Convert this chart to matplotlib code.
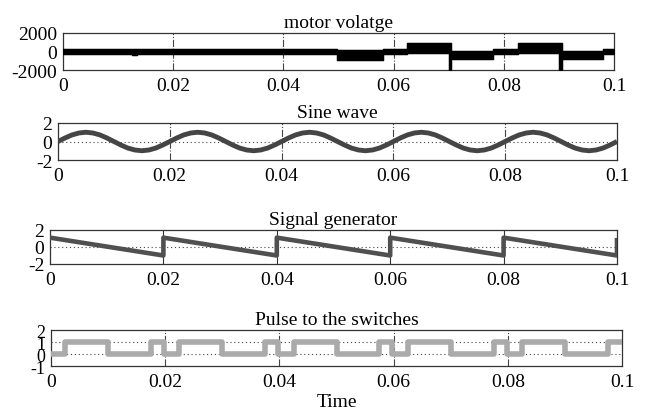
import matplotlib
matplotlib.use("Agg")
import matplotlib.pyplot as plt
import numpy as np

plt.rcParams['font.family'] = ['Liberation Serif', 'DejaVu Serif']

# ---------------- data ----------------
# motor voltage: piecewise bands (segment edges, band top, band bottom)
mv_edges = [0.0, 0.005, 0.0125, 0.0135, 0.0165, 0.020, 0.030, 0.0375, 0.0385,
            0.0425, 0.0497, 0.058, 0.0625, 0.0700, 0.0705, 0.0780, 0.0825,
            0.0900, 0.0905, 0.0980, 0.1]
mv_hi = [230, 300, 260, 300, 260, 220, 230, 320, 260, 300,
         150, 250, 950, 950, 100, 250, 950, 950, 100, 250]
mv_lo = [-260, -230, -330, -230, -260, -220, -230, -230, -230, -220,
         -880, -250, -200, -2000, -820, -250, -150, -2000, -820, -250]

# sine wave samples (every 0.00125 s)
sine_t = [i * 0.00125 for i in range(81)]
sine_v = [0.0, 0.38, 0.71, 0.92, 1.0, 0.92, 0.71, 0.38,
          0.0, -0.38, -0.71, -0.92, -1.0, -0.92, -0.71, -0.38,
          0.0, 0.38, 0.71, 0.92, 1.0, 0.92, 0.71, 0.38,
          0.0, -0.38, -0.71, -0.92, -1.0, -0.92, -0.71, -0.38,
          0.0, 0.38, 0.71, 0.92, 1.0, 0.92, 0.71, 0.38,
          0.0, -0.38, -0.71, -0.92, -1.0, -0.92, -0.71, -0.38,
          0.0, 0.38, 0.71, 0.92, 1.0, 0.92, 0.71, 0.38,
          0.0, -0.38, -0.71, -0.92, -1.0, -0.92, -0.71, -0.38,
          0.0, 0.38, 0.71, 0.92, 1.0, 0.92, 0.71, 0.38,
          0.0, -0.38, -0.71, -0.92, -1.0, -0.92, -0.71, -0.38,
          0.0]

# signal generator (sawtooth) vertices
saw_t = [0.0, 0.02, 0.02, 0.04, 0.04, 0.06, 0.06, 0.08, 0.08, 0.1, 0.1]
saw_v = [1.1, -1.0, 1.1, -1.0, 1.1, -1.0, 1.1, -1.0, 1.1, -1.0, 0.8]

# pulse to the switches (segment edges and levels)
pulse_edges = [0.0, 0.0025, 0.010, 0.0175, 0.0198, 0.0225, 0.030, 0.0375, 0.0398,
               0.0425, 0.050, 0.0575, 0.0598, 0.0625, 0.070, 0.0775, 0.0798,
               0.0825, 0.090, 0.0975, 0.1]
pulse_v = [0, 1, 0, 1, 0, 1, 0, 1, 0, 1, 0, 1, 0, 1, 0, 1, 0, 1, 0, 1]

xticks = [0, 0.02, 0.04, 0.06, 0.08, 0.1]
xticklabels = ['0', '0.02', '0.04', '0.06', '0.08', '0.1']

# ---------------- figure ----------------
W, H = 645, 414
fig = plt.figure(figsize=(W / 100, H / 100), dpi=100)

def add_ax(l, r, t, b):
    return fig.add_axes([l / W, 1 - b / H, (r - l) / W, (b - t) / H])

FS = 14
TFS = 14

def style(ax, title, yticks, ylim, vgrid_style='-.', vgrid_color='#444444', yfs=FS):
    ax.set_xlim(0, 0.1)
    ax.set_ylim(*ylim)
    ax.set_xticks(xticks)
    ax.set_xticklabels(xticklabels, fontsize=FS)
    ax.set_yticks(yticks)
    ax.set_yticklabels([str(v) for v in yticks], fontsize=yfs)
    ax.tick_params(axis='x', length=0, pad=5)
    ax.tick_params(axis='y', length=0, pad=4)
    for s in ax.spines.values():
        s.set_color('#333333')
        s.set_linewidth(0.9)
    for xv in xticks[1:-1]:
        ax.axvline(xv, color=vgrid_color, lw=0.8, ls=vgrid_style, zorder=1)
    ax.set_title(title, fontsize=TFS, pad=4)

# panel 1
ax1 = add_ax(63, 614, 34, 71)
style(ax1, 'motor volatge', [-2000, 0, 2000], (-2000, 2000))
e = np.array(mv_edges)
hi = np.append(mv_hi, mv_hi[-1])
lo = np.append(mv_lo, mv_lo[-1])
ax1.fill_between(e, lo, hi, step='post', color='black', lw=0.8, zorder=3)
ax1.step(e, hi, where='post', color='black', lw=1.0, zorder=3)
ax1.step(e, lo, where='post', color='black', lw=1.0, zorder=3)

# panel 2
ax2 = add_ax(58, 617, 124, 161)
style(ax2, 'Sine wave', [-2, 0, 2], (-2, 2))
ax2.axhline(0, color='#444444', lw=0.8, ls=(0, (1, 2.5)), zorder=1)
ax2.plot(sine_t, sine_v, color='#454545', lw=3.5, zorder=3, solid_capstyle='butt')

# panel 3
ax3 = add_ax(50, 617, 231, 265)
style(ax3, 'Signal generator', [-2, 0, 2], (-2, 2), vgrid_style='-', vgrid_color='#333333')
ax3.axhline(0, color='#444444', lw=0.8, ls=(0, (1, 2.5)), zorder=1)
ax3.plot(saw_t, saw_v, color='#505050', lw=3.3, zorder=3)

# panel 4
ax4 = add_ax(51, 622, 331, 367)
style(ax4, 'Pulse to the switches', [-1, 0, 1, 2], (-1, 2), yfs=13)
ax4.axhline(0, color='#444444', lw=0.8, ls=(0, (1, 2.5)), zorder=1)
ax4.axhline(1, color='#444444', lw=0.8, ls=(0, (1, 2.5)), zorder=1)
pe = np.array(pulse_edges)
pv = np.append(pulse_v, pulse_v[-1])
ax4.step(pe, pv, where='post', color='#aaaaaa', lw=4, zorder=3)
ax4.set_xlabel('Time', fontsize=FS, labelpad=2)

fig.savefig('out.png', dpi=100, facecolor='white')
